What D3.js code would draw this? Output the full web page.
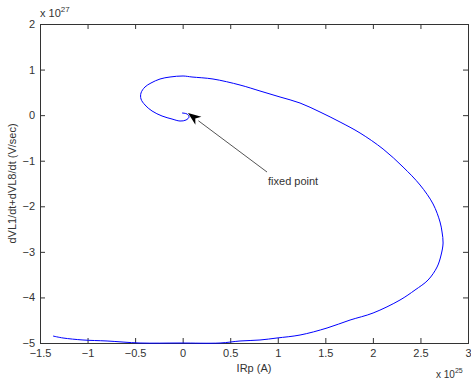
<!DOCTYPE html>
<html>
<head>
<meta charset="utf-8">
<script src="https://cdn.jsdelivr.net/npm/d3@7"></script>
<style>
  html, body { margin: 0; padding: 0; background: #fff; }
  svg { display: block; font-family: "Liberation Sans", Arial, sans-serif; }
</style>
</head>
<body>
<div id="chart"></div>
<script>
// trajectory (x in 1e25 A, y in 1e27 V/sec)
const irp = [-1.363, -1.258, -1.048, -0.795, -0.448, -0.028, 0.393, 0.603, 0.813, 0.992,
  1.234, 1.518, 1.760, 2.002, 2.285, 2.443, 2.580, 2.675, 2.717, 2.738,
  2.727, 2.706, 2.633, 2.496, 2.317, 2.107, 1.865, 1.655, 1.444, 1.234,
  1.024, 0.813, 0.603, 0.319, 0.098, 0.004, -0.133, -0.238, -0.333, -0.396,
  -0.438, -0.438, -0.396, -0.322, -0.217, -0.112, -0.028, 0.035, 0.067, 0.046, -0.007];
const dvl = [-4.847, -4.89, -4.934, -4.956, -5.0, -5.0, -5.0, -4.956, -4.934, -4.89,
  -4.825, -4.671, -4.496, -4.342, -4.057, -3.837, -3.618, -3.332, -3.069, -2.806,
  -2.564, -2.345, -1.950, -1.533, -1.138, -0.743, -0.392, -0.151, 0.069, 0.266,
  0.398, 0.530, 0.661, 0.793, 0.837, 0.859, 0.837, 0.793, 0.705, 0.618,
  0.486, 0.354, 0.223, 0.091, -0.019, -0.085, -0.129, -0.107, -0.041, 0.025, 0.047];

const xTicks = [-1.5, -1, -0.5, 0, 0.5, 1, 1.5, 2, 2.5, 3];
const yTicks = [-5, -4, -3, -2, -1, 0, 1, 2];

const arrowTip = [0.056, 0.047];
const arrowTail = [0.887, -1.248];
const noteText = 'fixed point';

const W = 471, H = 379;
const margin = { top: 24, right: 3, bottom: 36, left: 40 };
const width = W - margin.left - margin.right;
const height = H - margin.top - margin.bottom;

const svg = d3.select('#chart').append('svg')
  .attr('width', W).attr('height', H);

const g = svg.append('g')
  .attr('transform', `translate(${margin.left},${margin.top})`);

const x = d3.scaleLinear().domain([-1.5, 3]).range([0, width]);
const y = d3.scaleLinear().domain([-5, 2]).range([height, 0]);

const fmt = d => (d < 0 ? '\u2212' + Math.abs(d) : String(d));

// axes with inward ticks on all four sides
const styleAxis = sel => {
  sel.select('.domain').attr('stroke', '#333');
  sel.selectAll('.tick line').attr('stroke', '#333');
  sel.selectAll('.tick text').attr('fill', '#333').style('font-size', '11px');
};

g.append('g').attr('transform', `translate(0,${height})`)
  .call(d3.axisBottom(x).tickValues(xTicks).tickFormat(fmt).tickSize(-5).tickSizeOuter(0).tickPadding(6))
  .call(styleAxis);
g.append('g')
  .call(d3.axisLeft(y).tickValues(yTicks).tickFormat(fmt).tickSize(-5).tickSizeOuter(0).tickPadding(5))
  .call(styleAxis);
g.append('g')
  .call(d3.axisTop(x).tickValues(xTicks).tickFormat('').tickSize(-5).tickSizeOuter(0))
  .call(styleAxis);
g.append('g').attr('transform', `translate(${width},0)`)
  .call(d3.axisRight(y).tickValues(yTicks).tickFormat('').tickSize(-5).tickSizeOuter(0))
  .call(styleAxis);

g.selectAll('.domain').attr('shape-rendering', 'crispEdges');

// curve
const pts = irp.map((v, i) => [v, dvl[i]]);
g.append('path')
  .datum(pts)
  .attr('fill', 'none')
  .attr('stroke', '#0000ff')
  .attr('stroke-width', 1)
  .attr('d', d3.line().x(d => x(d[0])).y(d => y(d[1])).curve(d3.curveCatmullRom));

// annotation arrow
const tx = x(arrowTip[0]), ty = y(arrowTip[1]);
const sx = x(arrowTail[0]), sy = y(arrowTail[1]);
const ang = Math.atan2(ty - sy, tx - sx);
const hl = 13, hw = 5;
const bx = tx - hl * Math.cos(ang), by = ty - hl * Math.sin(ang);
g.append('line')
  .attr('x1', sx).attr('y1', sy).attr('x2', bx).attr('y2', by)
  .attr('stroke', '#555').attr('stroke-width', 1);
g.append('path')
  .attr('d', `M${tx},${ty}L${bx + hw * Math.sin(ang)},${by - hw * Math.cos(ang)}` +
    `L${tx - 0.7 * hl * Math.cos(ang)},${ty - 0.7 * hl * Math.sin(ang)}` +
    `L${bx - hw * Math.sin(ang)},${by + hw * Math.cos(ang)}Z`)
  .attr('fill', '#000');
g.append('text')
  .attr('x', sx + 1).attr('y', sy + 13)
  .attr('fill', '#333')
  .style('font-size', '11px')
  .text(noteText);

// axis titles
g.append('text')
  .attr('x', width / 2).attr('y', height + 29)
  .attr('text-anchor', 'middle')
  .attr('fill', '#333')
  .style('font-size', '11px')
  .text('IRp (A)');

g.append('text')
  .attr('transform', 'rotate(-90)')
  .attr('x', -height / 2).attr('y', -margin.left + 16)
  .attr('text-anchor', 'middle')
  .attr('fill', '#333')
  .style('font-size', '11px')
  .text('dVL1/dt+dVL8/dt (V/sec)');

// exponent labels
const expTop = svg.append('text').attr('x', 40).attr('y', 17).attr('fill', '#333').style('font-size', '11px');
expTop.append('tspan').text('x 10');
expTop.append('tspan').attr('dy', -5).style('font-size', '8px').text('27');

const expBot = svg.append('text').attr('x', 436).attr('y', 378).attr('fill', '#333').style('font-size', '10px');
expBot.append('tspan').text('x 10');
expBot.append('tspan').attr('dy', -5).style('font-size', '7px').text('25');
</script>
</body>
</html>
